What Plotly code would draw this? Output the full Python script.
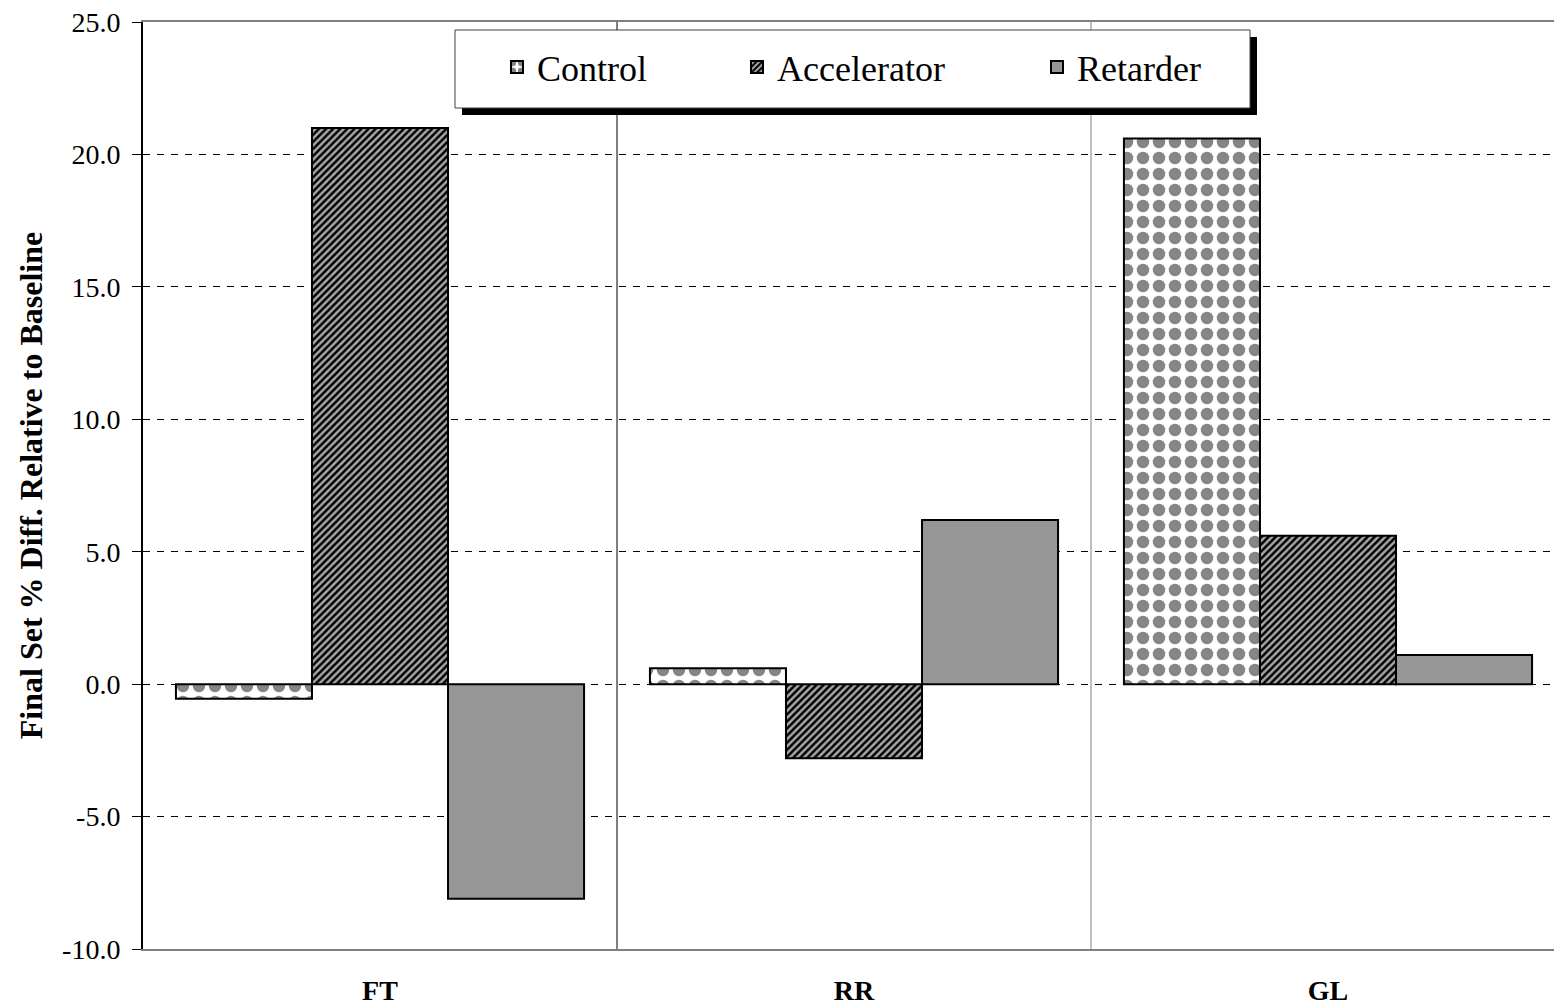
import plotly.graph_objects as go

# Test sites and per-treatment final set % differences
sites = ["FT", "RR", "GL"]
control = [-0.55, 0.6, 20.6]
accelerator = [21.0, -2.8, 5.6]
retarder = [-8.1, 6.2, 1.1]

y_ticks = [-10, -5, 0, 5, 10, 15, 20, 25]
y_tick_text = [f"{v:.1f}" for v in y_ticks]
y_range = [-10, 25]

FONT = "Liberation Serif, Times New Roman, serif"

W, H = 1554, 1008
ML, MR, MT, MB = 143, 0, 22, 59
PW, PH = W - ML - MR, H - MT - MB


def px_x(p):
    return (p - ML) / PW


def px_y(p):
    return (H - MB - p) / PH


fig = go.Figure()

fig.add_bar(
    name="Control", x=sites, y=control, legend="legend",
    marker=dict(
        color="white",
        line=dict(color="black", width=2),
        pattern=dict(shape=".", size=16, solidity=0.48,
                     fgcolor="#858585", bgcolor="white", fillmode="replace"),
    ),
)
fig.add_bar(
    name="Accelerator", x=sites, y=accelerator, legend="legend2",
    marker=dict(
        color="#a8a8a8",
        line=dict(color="black", width=2),
        pattern=dict(shape="/", size=5, solidity=0.5,
                     fgcolor="black", bgcolor="#a8a8a8", fillmode="replace"),
    ),
)
fig.add_bar(
    name="Retarder", x=sites, y=retarder, legend="legend3",
    marker=dict(color="#969696", line=dict(color="black", width=2)),
)

shapes = [
    # category separators
    dict(type="line", xref="x", yref="paper", x0=0.5, x1=0.5, y0=0, y1=1,
         line=dict(color="black", width=1), layer="below"),
    dict(type="line", xref="x", yref="paper", x0=1.5, x1=1.5, y0=0, y1=1,
         line=dict(color="#808080", width=1), layer="below"),
    # legend frame with drop shadow
    dict(type="rect", xref="paper", yref="paper",
         x0=px_x(462), x1=px_x(1257), y0=px_y(115), y1=px_y(37),
         fillcolor="black", line=dict(width=0), layer="above"),
    dict(type="rect", xref="paper", yref="paper",
         x0=px_x(455), x1=px_x(1250), y0=px_y(108), y1=px_y(30),
         fillcolor="white", line=dict(color="#404040", width=1), layer="above"),
]


def legend_at(xpx):
    return dict(
        orientation="h", x=px_x(xpx), y=px_y(37), xanchor="left", yanchor="top",
        bgcolor="rgba(0,0,0,0)", borderwidth=0,
        font=dict(family=FONT, size=36, color="black"),
    )


fig.update_layout(
    width=W, height=H,
    margin=dict(l=ML, r=MR, t=MT, b=MB, pad=0),
    paper_bgcolor="white", plot_bgcolor="white",
    barmode="group", bargap=0.139, bargroupgap=0,
    font=dict(family=FONT, color="black", size=28),
    shapes=shapes,
    showlegend=True,
    legend=legend_at(497),
    legend2=legend_at(737),
    legend3=legend_at(1037),
    xaxis=dict(
        type="category",
        range=[-0.5, 2.5 - 11 / 474],
        showgrid=False, zeroline=False,
        showline=True, linecolor="#808080", linewidth=2, mirror=True,
        ticks="", ticklabelstandoff=15, automargin=False,
        tickfont=dict(family=FONT, size=28, color="black", weight="bold"),
    ),
    yaxis=dict(
        range=y_range, tickvals=y_ticks, ticktext=y_tick_text,
        showgrid=True, gridcolor="black", gridwidth=1, griddash="7px,7px",
        zeroline=False, automargin=False,
        showline=True, linecolor="black", linewidth=2,
        ticks="outside", ticklen=9, tickwidth=1, tickcolor="black",
        ticklabelstandoff=6,
        tickfont=dict(family=FONT, size=28, color="black"),
        title=dict(text="Final Set % Diff. Relative to Baseline",
                   font=dict(family=FONT, size=32, color="black", weight="bold"),
                   standoff=10),
    ),
)

fig.write_html("out.html")
